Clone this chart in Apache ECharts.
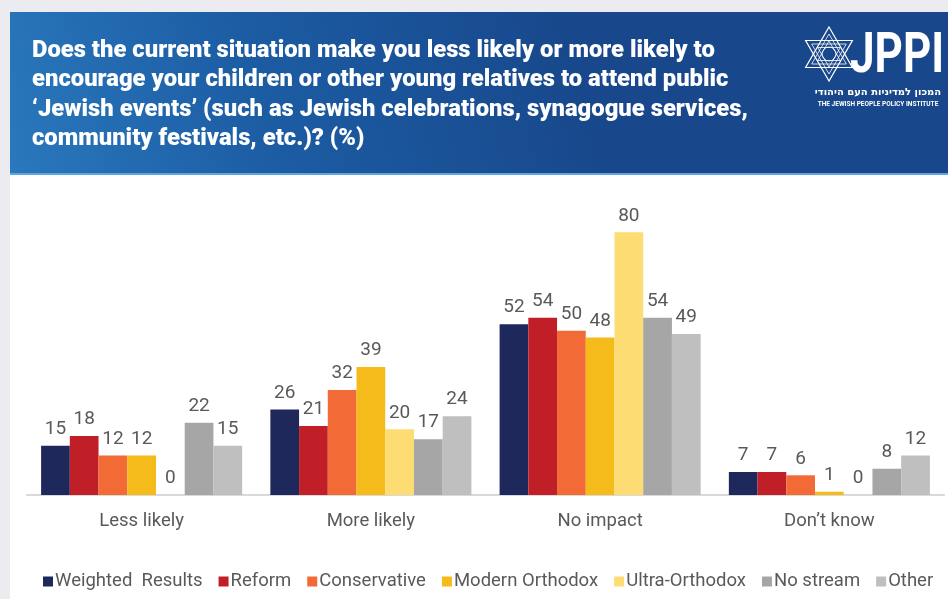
<!DOCTYPE html>
<html>
<head>
<meta charset="utf-8">
<script src="https://cdn.jsdelivr.net/npm/echarts@6/dist/echarts.min.js"></script>
<style>
  html, body { margin: 0; padding: 0; background: #ecebf0; }
  #chart { width: 948px; height: 599px; }
</style>
</head>
<body>
<div id="chart"></div>
<script>
// Answer categories along the x axis
const categories = ['Less likely', 'More likely', 'No impact', 'Don\u2019t know'];

// Share of respondents (%) per denomination group
const seriesNames = ['Weighted  Results', 'Reform', 'Conservative', 'Modern Orthodox', 'Ultra-Orthodox', 'No stream', 'Other'];
const weighted       = [15, 26, 52, 7];
const reform         = [18, 21, 54, 7];
const conservative   = [12, 32, 50, 6];
const modernOrthodox = [12, 39, 48, 1];
const ultraOrthodox  = [0, 20, 80, 0];
const noStream       = [22, 17, 54, 8];
const other          = [15, 24, 49, 12];

const seriesValues = [weighted, reform, conservative, modernOrthodox, ultraOrthodox, noStream, other];
const colors = ['#1f285b', '#c01f27', '#f26b37', '#f5bb1b', '#fddc74', '#a6a6a6', '#bfbfbf'];

const titleText =
  'Does the current situation make you less likely or more likely to\n' +
  'encourage your children or other young relatives to attend public\n' +
  '\u2018Jewish events\u2019 (such as Jewish celebrations, synagogue services,\n' +
  'community festivals, etc.)? (%)';

// Star of David drawn as two overlapping triangles
function triangle(cx, cy, r, up) {
  const pts = [];
  for (let i = 0; i < 3; i++) {
    const a = (up ? -90 : 90) + i * 120;
    const rad = a * Math.PI / 180;
    pts.push([cx + r * Math.cos(rad), cy + r * Math.sin(rad)]);
  }
  return pts;
}

const chart = echarts.init(document.getElementById('chart'));
const starCx = 829, starCy = 54;
const logoShapes = [];
[27, 20, 13].forEach(function (r, i) {
  logoShapes.push({ type: 'polygon', shape: { points: triangle(starCx, starCy, r, true) },
    style: { fill: 'none', stroke: '#ffffff', lineWidth: i === 0 ? 1.2 : 0.8 } });
  logoShapes.push({ type: 'polygon', shape: { points: triangle(starCx, starCy, r, false) },
    style: { fill: 'none', stroke: '#ffffff', lineWidth: i === 0 ? 1.2 : 0.8 } });
});
logoShapes.push({ type: 'circle', shape: { cx: starCx, cy: starCy, r: 7 },
  style: { fill: 'none', stroke: '#ffffff', lineWidth: 0.8 } });

chart.setOption({
  backgroundColor: '#ecebf0',
  animation: false,
  color: colors,
  title: {
    text: titleText,
    left: 32,
    top: 36,
    padding: 0,
    textStyle: {
      color: '#ffffff',
      fontFamily: 'Roboto',
      fontWeight: 900,
      fontSize: 23.8,
      lineHeight: 29.5
    }
  },
  graphic: [
    // white panel
    { type: 'rect', z: -10, shape: { x: 10, y: 175, width: 938, height: 424 }, style: { fill: '#ffffff' } },
    // header band
    { type: 'rect', z: -10, shape: { x: 10, y: 12, width: 938, height: 162 },
      style: { fill: new echarts.graphic.LinearGradient(0, 1, 0.6, 0, [
        { offset: 0, color: '#2a78bd' },
        { offset: 0.45, color: '#1c5ca3' },
        { offset: 1, color: '#18478b' }
      ]) } },
    { type: 'rect', z: -9, shape: { x: 10, y: 173, width: 938, height: 2 }, style: { fill: '#5fa6e0' } },
    { type: 'group', z: 5, children: logoShapes },
    { type: 'text', z: 5, x: 850, y: 58, scaleY: 1.25, style: { x: 0, y: 0, text: 'JPPI', fill: '#ffffff',
      font: 'bold 44px Roboto, sans-serif', textVerticalAlign: 'middle' } },
    { type: 'text', z: 5, style: { x: 878, y: 92, text: '\u05d4\u05de\u05db\u05d5\u05df \u05dc\u05de\u05d3\u05d9\u05e0\u05d9\u05d5\u05ea \u05d4\u05e2\u05dd \u05d4\u05d9\u05d4\u05d5\u05d3\u05d9', fill: '#ffffff',
      font: 'bold 10px "DejaVu Sans", sans-serif', textAlign: 'center', textVerticalAlign: 'middle' } },
    { type: 'text', z: 5, style: { x: 878, y: 104, text: 'THE JEWISH PEOPLE POLICY INSTITUTE', fill: '#ffffff',
      font: 'bold 6.5px Roboto, sans-serif', textAlign: 'center', textVerticalAlign: 'middle' } }
  ],
  legend: {
    left: 38,
    right: 0,
    top: 567,
    itemWidth: 10,
    itemHeight: 10,
    itemGap: 16,
    icon: 'rect',
    data: seriesNames,
    textStyle: { color: '#595959', fontSize: 18.5, fontFamily: 'Roboto', padding: [0, 0, 0, -3] }
  },
  grid: { left: 27, right: 4, top: 232.3, bottom: 104, containLabel: false },
  xAxis: {
    type: 'category',
    data: categories,
    axisLine: { lineStyle: { color: '#d9d9d9', width: 2 } },
    axisTick: { show: false },
    axisLabel: { color: '#595959', fontSize: 18.5, fontFamily: 'Roboto', margin: 17 }
  },
  yAxis: {
    type: 'value',
    min: 0,
    max: 80,
    show: false,
    splitLine: { show: false }
  },
  series: seriesValues.map(function (vals, i) {
    return {
      name: seriesNames[i],
      type: 'bar',
      data: vals,
      barGap: '0%',
      barCategoryGap: '12.3%',
      itemStyle: { color: colors[i] },
      label: {
        show: true,
        position: 'top',
        distance: 7,
        color: '#595959',
        fontSize: 19,
        fontFamily: 'Roboto'
      }
    };
  })
});
</script>
</body>
</html>
